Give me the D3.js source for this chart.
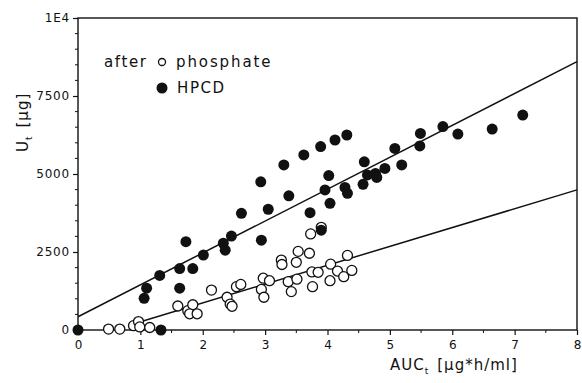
<!DOCTYPE html>
<html><head><meta charset="utf-8">
<script src="https://cdn.jsdelivr.net/npm/d3@7"></script>
<style>
html,body{margin:0;padding:0;background:#fff;}
text{font-family:"DejaVu Sans",sans-serif;fill:#111;}
</style></head>
<body>
<svg id="c" width="582" height="383"></svg>
<script>
// Data (AUC_t in µg*h/ml, U_t in µg)
const hpcdX = [0,1.33,1.06,1.10,1.31,1.63,1.63,1.73,1.84,2.01,2.33,2.36,2.46,2.62,2.93,2.94,3.05,3.30,3.38,3.62,3.72,3.89,3.90,3.96,4.02,4.04,4.12,4.28,4.31,4.32,4.57,4.59,4.64,4.77,4.79,4.92,5.08,5.19,5.48,5.49,5.85,6.09,6.64,7.13];
const hpcdY = [0,0,1015,1340,1750,1340,1970,2830,1970,2400,2780,2560,3010,3740,4750,2880,3870,5290,4300,5610,3760,5880,3200,4490,4950,4060,6090,4570,6250,4380,4670,5390,4970,5020,4890,5180,5820,5290,5900,6300,6520,6280,6440,6890];
const phosX = [0.49,0.67,0.89,0.97,0.99,1.15,1.60,1.76,1.84,1.79,1.91,2.14,2.39,2.44,2.47,2.54,2.61,2.94,2.97,2.98,3.07,3.26,3.27,3.37,3.42,3.50,3.51,3.53,3.71,3.73,3.75,3.76,3.85,3.90,4.05,4.04,4.16,4.26,4.32,4.39];
const phosY = [30,30,140,270,100,80,770,620,810,520,520,1280,1050,830,760,1390,1460,1300,1660,1050,1580,2240,2100,1550,1230,2170,1630,2520,2460,3080,1860,1390,1850,3290,2110,1580,1890,1710,2390,1910];
// regression lines: [intercept, slope, xStart, xEnd]
const hpcdFit = [426, 1022, 0, 8];
const phosFit = [-340, 604, 0.95, 8];
const xTicks = [0,1,2,3,4,5,6,7,8];
const yTicks = [0,2500,5000,7500,10000];
const yTickLabels = ["0","2500","5000","7500","1E4"];
const legendLabels = ["after  \u25CB phosphate", "HPCD"];

const svg = d3.select("#c");
const x = d3.scaleLinear().domain([0,8]).range([78,577]);
const y = d3.scaleLinear().domain([0,10000]).range([330,18]);

// frame
svg.append("rect").attr("x",x(0)).attr("y",y(10000)).attr("width",x(8)-x(0)).attr("height",y(0)-y(10000))
  .attr("fill","none").attr("stroke","#111").attr("stroke-width",1.4);

// y axis
const ya = svg.append("g").attr("transform",`translate(${x(0)},0)`)
  .call(d3.axisLeft(y).tickValues(yTicks).tickFormat((d,i)=>yTickLabels[i]).tickSize(5).tickPadding(3));
ya.select(".domain").remove();
ya.selectAll("line").attr("stroke","#111").attr("stroke-width",1.2);
ya.selectAll("text").style("font-size","12px").style("letter-spacing","0.8px").attr("fill","#111");
const yMinor = d3.range(500,10000,500).filter(v=>v%2500!==0);
svg.append("g").selectAll("line").data(yMinor).join("line")
  .attr("x1",x(0)-3).attr("x2",x(0)).attr("y1",d=>y(d)).attr("y2",d=>y(d)).attr("stroke","#111").attr("stroke-width",1);

// x axis
const xa = svg.append("g").attr("transform",`translate(0,${y(0)})`)
  .call(d3.axisBottom(x).tickValues(xTicks).tickFormat(d3.format("d")).tickSize(5).tickPadding(5));
xa.select(".domain").remove();
xa.selectAll("line").attr("stroke","#111").attr("stroke-width",1.2);
xa.selectAll("text").style("font-size","12px").attr("fill","#111");
const xMinor = d3.range(0.5,8,1);
svg.append("g").selectAll("line").data(xMinor).join("line")
  .attr("x1",d=>x(d)).attr("x2",d=>x(d)).attr("y1",y(0)).attr("y2",y(0)+3).attr("stroke","#111").attr("stroke-width",1);

// regression lines
[hpcdFit, phosFit].forEach(f=>{
  svg.append("line").attr("x1",x(f[2])).attr("y1",y(f[0]+f[1]*f[2]))
    .attr("x2",x(f[3])).attr("y2",y(f[0]+f[1]*f[3]))
    .attr("stroke","#111").attr("stroke-width",1.5);
});

// points
svg.append("g").selectAll("circle").data(phosX.map((v,i)=>[v,phosY[i]])).join("circle")
  .attr("cx",d=>x(d[0])).attr("cy",d=>y(d[1])).attr("r",5)
  .attr("fill","#fff").attr("stroke","#111").attr("stroke-width",1.3);
svg.append("g").selectAll("circle").data(hpcdX.map((v,i)=>[v,hpcdY[i]])).join("circle")
  .attr("cx",d=>x(d[0])).attr("cy",d=>y(d[1])).attr("r",5.5).attr("fill","#111");

// legend
svg.append("text").attr("x",104).attr("y",67).style("font-size","15px").style("letter-spacing","1.6px").text("after");
svg.append("circle").attr("cx",162).attr("cy",62).attr("r",3.5).attr("fill","#fff").attr("stroke","#111").attr("stroke-width",1.3);
svg.append("text").attr("x",176).attr("y",67).style("font-size","15px").style("letter-spacing","1.9px").text("phosphate");
svg.append("circle").attr("cx",162).attr("cy",88).attr("r",5.5).attr("fill","#111");
svg.append("text").attr("x",177).attr("y",93).style("font-size","15px").style("letter-spacing","1.6px").text("HPCD");

// axis titles
const xt = svg.append("text").attr("x",390).attr("y",370).style("font-size","15px").style("letter-spacing","1px");
xt.append("tspan").text("AUC");
xt.append("tspan").attr("dy",4).style("font-size","9px").text("t");
xt.append("tspan").attr("dy",-4).attr("dx",8).text("[\u03BCg*h/ml]");

const yt = svg.append("text").attr("transform","translate(28,152) rotate(-90)").style("font-size","15px").style("letter-spacing","1px");
yt.append("tspan").text("U");
yt.append("tspan").attr("dy",4).style("font-size","9px").text("t");
yt.append("tspan").attr("dy",-4).attr("dx",8).text("[\u03BCg]");
</script>
</body></html>
